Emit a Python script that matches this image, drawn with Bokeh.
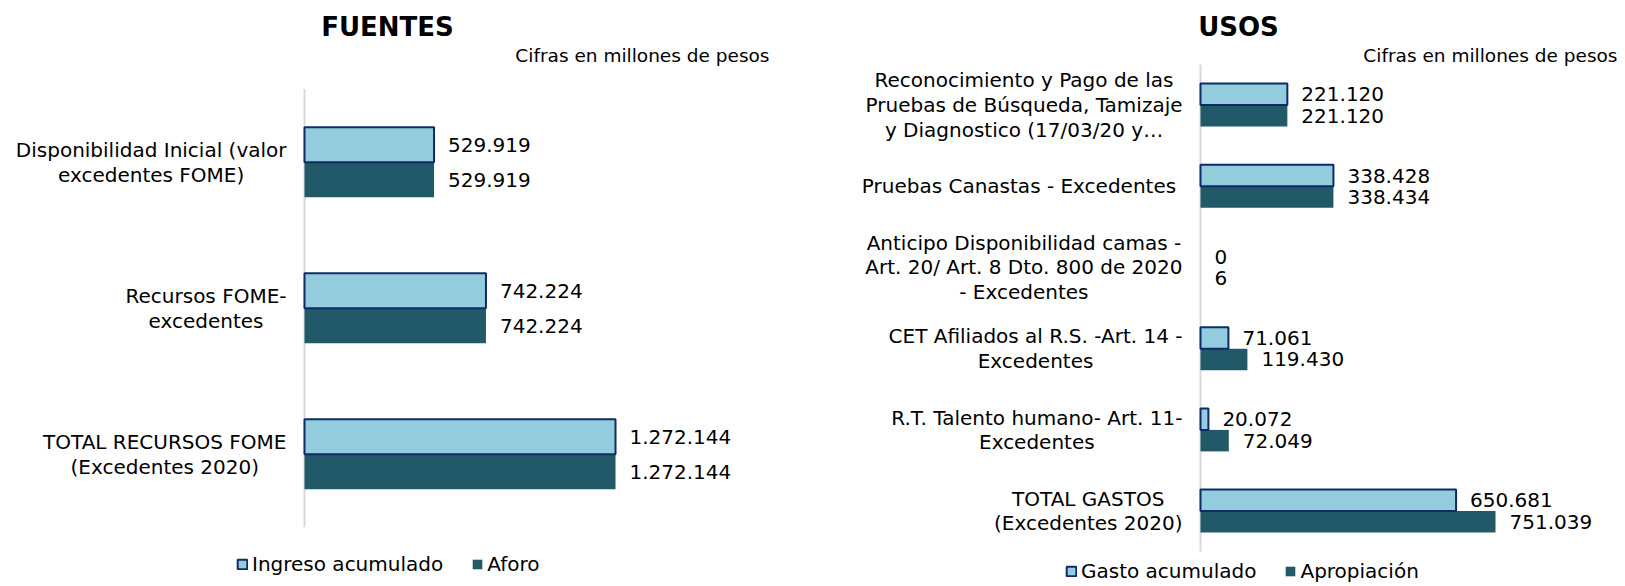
from bokeh.plotting import figure
from bokeh.layouts import row
from bokeh.models import Range1d, ColumnDataSource, Legend, LegendItem, Label
from bokeh.core.properties import value
from bokeh.embed import file_html
from bokeh.resources import INLINE

# ---------------- data ----------------
fuentes_title = "FUENTES"
fuentes_cats = [
    "Disponibilidad Inicial (valor\nexcedentes FOME)",
    "Recursos FOME-\nexcedentes",
    "TOTAL RECURSOS FOME\n(Excedentes 2020)",
]
fuentes_ingreso = [529919, 742224, 1272144]
fuentes_aforo = [529919, 742224, 1272144]
fuentes_series = ["Ingreso acumulado", "Aforo"]

usos_title = "USOS"
usos_cats = [
    "Reconocimiento y Pago de las\nPruebas de Búsqueda, Tamizaje\ny Diagnostico (17/03/20 y…",
    "Pruebas Canastas  - Excedentes",
    "Anticipo Disponibilidad camas -\nArt. 20/ Art. 8 Dto. 800 de 2020\n- Excedentes",
    "CET Afiliados al R.S. -Art. 14 -\nExcedentes",
    "R.T. Talento humano- Art. 11-\nExcedentes",
    "TOTAL GASTOS\n(Excedentes 2020)",
]
usos_gasto = [221120, 338428, 0, 71061, 20072, 650681]
usos_apropiacion = [221120, 338434, 6, 119430, 72049, 751039]
usos_series = ["Gasto acumulado", "Apropiación"]

note_text = "Cifras en millones de pesos"

# ---------------- style ----------------
FONT = "DejaVu Sans"
LIGHT = "#93CDDD"
DARK = "#215968"
EDGE = "#0F2B66"
AXIS = "#D9D9D9"
TXT = "#000000"
H = 586


def fmt(v):
    return f"{v:,}".replace(",", ".")


def panel(width, cats, s1, s2, names, title, axis_px, ppu, top_px, cat_px, bar_h,
          title_px, note_right_px, legend_loc):
    n = len(cats)
    y_top = -0.5 - top_px / cat_px
    y_bot = y_top + H / cat_px
    x0 = -axis_px / ppu
    x1 = (width - axis_px) / ppu

    def X(px):
        return x0 + px / ppu

    def Y(px):
        return y_top + px / cat_px

    p = figure(width=width, height=H, x_range=Range1d(x0, x1), y_range=Range1d(y_bot, y_top),
               output_backend="svg", toolbar_location=None, min_border=0,
               x_axis_location=None, y_axis_location=None)
    p.outline_line_color = None
    p.background_fill_color = "white"
    p.grid.visible = False

    idx = list(range(n))
    src = ColumnDataSource(dict(
        y1=[i - bar_h / 2 for i in idx], y2=[i + bar_h / 2 for i in idx],
        v1=s1, v2=s2, l1=[fmt(v) for v in s1], l2=[fmt(v) for v in s2],
        la=[1 if v > 0 else 0 for v in s1],
        yc=idx, cat=cats))

    # axis line
    p.segment(x0=[0], y0=[-0.5], x1=[0], y1=[n - 0.5], line_color=AXIS, line_width=2)

    r2 = p.hbar(y="y2", left=0, right="v2", height=bar_h, source=src,
                fill_color=DARK, line_color=None)
    r1 = p.hbar(y="y1", left=0, right="v1", height=bar_h, source=src,
                fill_color=LIGHT, line_color=EDGE, line_width=2, line_alpha="la")

    common = dict(text_font=value(FONT), text_font_size="20px", text_color=TXT,
                  text_baseline="middle")
    p.text(x="v1", y="y1", text="l1", source=src, x_offset=14, text_align="left", **common)
    p.text(x="v2", y="y2", text="l2", source=src, x_offset=14, text_align="left", **common)
    p.text(x=0, y="yc", text="cat", source=src, x_offset=-18, text_align="center",
           anchor=value("center_right"), text_line_height=1.03, **common)

    p.add_layout(Label(x=X(title_px[0]), y=Y(title_px[1]), text=title, text_font=FONT,
                       text_font_size="26px", text_font_style="bold", text_color=TXT,
                       text_align="center", text_baseline="middle"))
    p.add_layout(Label(x=X(note_right_px[0]), y=Y(note_right_px[1]), text=note_text,
                       text_font=FONT, text_font_size="18.5px", text_color=TXT,
                       text_align="right", text_baseline="middle"))

    leg = Legend(items=[LegendItem(label=names[0], renderers=[r1]),
                        LegendItem(label=names[1], renderers=[r2])],
                 orientation="horizontal", location=legend_loc,
                 glyph_width=12, glyph_height=12, label_standoff=4, spacing=28,
                 padding=0, margin=0, border_line_alpha=0, background_fill_alpha=0,
                 label_text_font=FONT, label_text_font_size="20px", label_text_color=TXT)
    p.add_layout(leg)
    return p


left = panel(808, fuentes_cats, fuentes_ingreso, fuentes_aforo, fuentes_series, fuentes_title,
             axis_px=304, ppu=311 / 1272144, top_px=88.7, cat_px=146, bar_h=0.24,
             title_px=(387, 26), note_right_px=(769, 55), legend_loc=(236, 10))

right = panel(817, usos_cats, usos_gasto, usos_apropiacion, usos_series, usos_title,
              axis_px=392, ppu=295 / 751039, top_px=64, cat_px=81.2, bar_h=0.265,
              title_px=(430, 26), note_right_px=(809, 55), legend_loc=(257, 3))

layout = row(left, right)
open("out.html", "w").write(file_html(layout, INLINE))
